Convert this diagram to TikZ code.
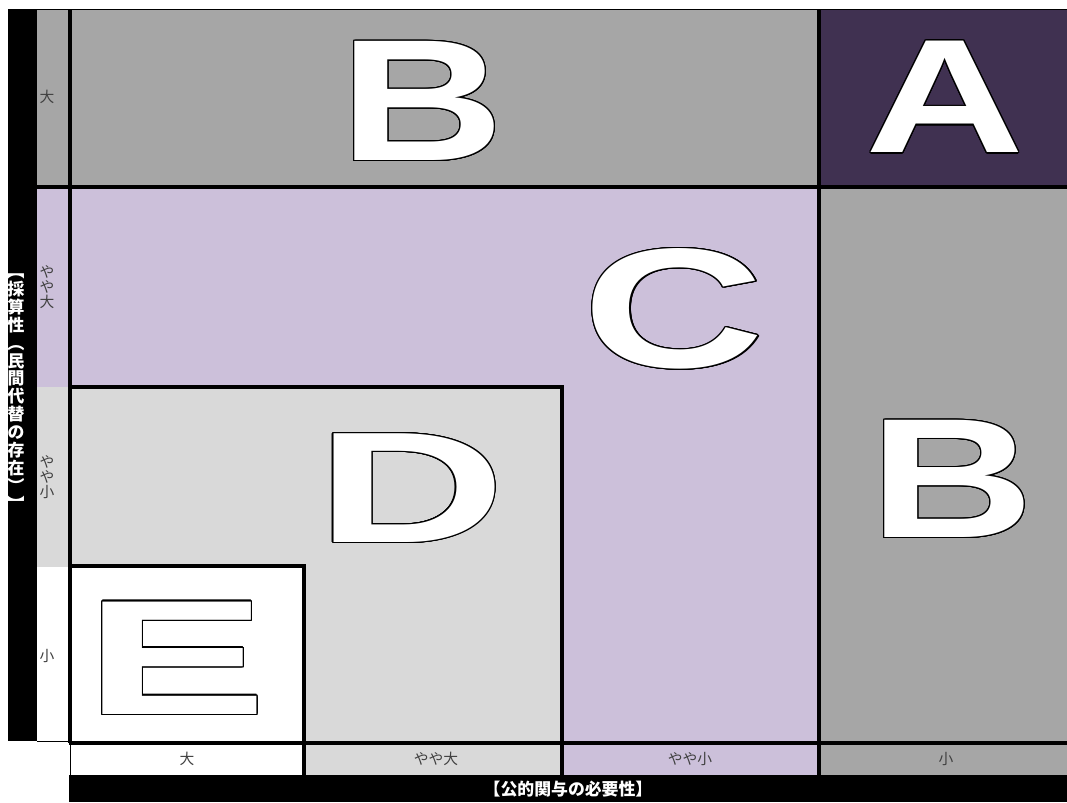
\documentclass[tikz,border=0pt]{standalone}
\usepackage{fontspec}
\usetikzlibrary{calc}
\newfontfamily\jpfont{Noto Sans CJK JP}
\newfontfamily\letterfont{Liberation Sans}
\definecolor{cellgray}{HTML}{A6A6A6}
\definecolor{cellpurple}{HTML}{403151}
\definecolor{celllilac}{HTML}{CCC0DA}
\definecolor{celllight}{HTML}{D9D9D9}
\definecolor{labelgray}{HTML}{404040}

\tikzset{
  rowlabel/.style={font=\jpfont\fontsize{8.4}{8.6}\selectfont,text=labelgray,align=center,inner sep=0pt},
  collabel/.style={font=\jpfont\fontsize{8.4}{8.6}\selectfont,text=labelgray,inner sep=0pt},
  axistitle/.style={font=\jpfont\bfseries\fontsize{9.6}{10.2}\selectfont,text=white,align=center,inner sep=0pt},
  gridrule/.style={line width=1.9pt},
  thinrule/.style={line width=0.5pt},
  bigletter/.style 2 args={font=\letterfont\bfseries\fontsize{#1}{#1}\selectfont,xscale=#2,inner sep=0pt},
}

\begin{document}
\begin{tikzpicture}[x=0.02cm,y=-0.02cm]
    \useasboundingbox (0,0) rectangle (1067,802);
    % cells
    \fill[cellgray] (37,10) rectangle (819,187);
    \fill[cellpurple] (819,10) rectangle (1067,187);
    \fill[cellgray] (819,187) rectangle (1067,775);
    \fill[celllilac] (37,187) rectangle (819,775);
    \fill[celllight] (37,387) rectangle (563,775);
    \fill[white] (37,567) rectangle (305,775);
    % axis bars
    \fill[black] (8,9) rectangle (37,741);
    \fill[black] (69,775) rectangle (1067,802);
    % grid
    \draw[thinrule] (8,9.5) -- (1067,9.5);
    \draw[gridrule] (37,187) -- (1067,187);
    \draw[gridrule] (70,10) -- (70,743);
    \draw[thinrule] (70,743) -- (70,775);
    \draw[gridrule] (819,10) -- (819,775);
    \draw[gridrule] (69,743) -- (1067,743);
    \draw[thinrule] (37,741) -- (69,741);
    \draw[gridrule] (69,387) -- (562,387) -- (562,775);
    \draw[gridrule] (69,566) -- (304,566) -- (304,775);
    % row and column labels
    \node[rowlabel] (rowL1) at (47,97) {大};
    \node[rowlabel] (rowL2) at (47,287) {や\\や\\大};
    \node[rowlabel] (rowL3) at (47,477) {や\\や\\小};
    \node[rowlabel] (rowL4) at (47,656) {小};
    \node[collabel] (colL1) at (187,759) {大};
    \node[collabel] (colL2) at (436,759) {やや大};
    \node[collabel] (colL3) at (690,759) {やや小};
    \node[collabel] (colL4) at (946,759) {小};
    \node[axistitle] (yTitle) at (16,392) {︻\\採\\算\\性\\︵\\民\\間\\代\\替\\の\\存\\在\\︶\\︼};
    \node[axistitle] (xTitle) at (568,789) {【公的関与の必要性】};
    % outlined letters
    \foreach \nm/\lt/\px/\py/\fs/\xs in {bTop/B/422/101/98.6/1.32, a/A/945/97/92.2/1.36,
        c/C/674/309/97/1.48, d/D/411/488/90/1.66, bRight/B/952/479/97/1.34, e/E/176/658/93/1.68} {
      \foreach \ang in {0,20,...,340}
        \node[bigletter={\fs}{\xs},text=black] at ($(\px,\py)+(\ang:1.3)$) {\lt};
      \node[bigletter={\fs}{\xs},text=white] (\nm) at (\px,\py) {\lt};
    }
\end{tikzpicture}
\end{document}
